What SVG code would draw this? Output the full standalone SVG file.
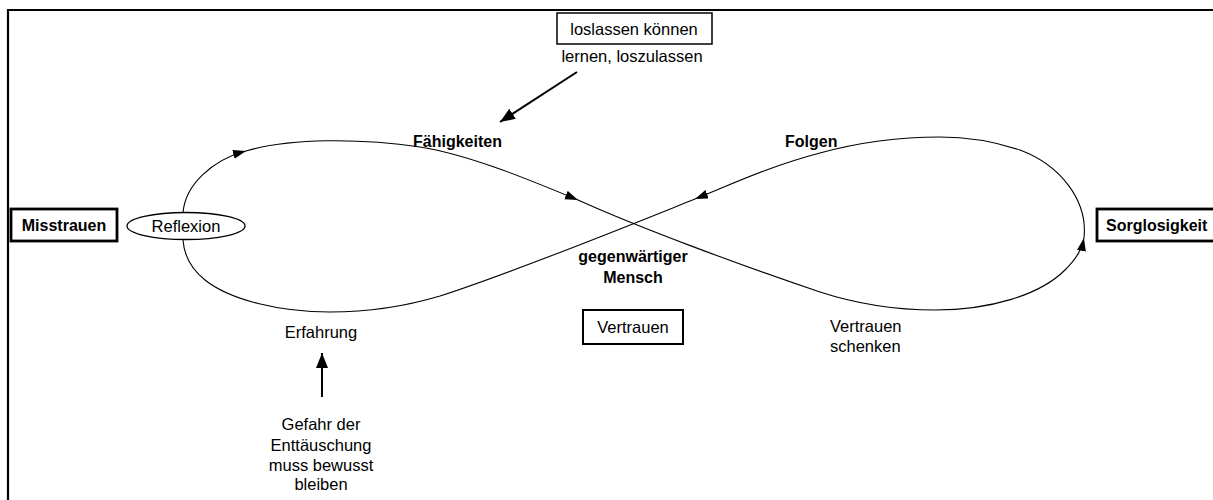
<svg xmlns="http://www.w3.org/2000/svg" width="1213" height="500" viewBox="0 0 1213 500">
<style>
  text { font-family: "Liberation Sans", Arial, sans-serif; fill: #000; }
  .r { font-size: 16.5px; }
  .b { font-size: 16px; font-weight: bold; }
  .c { text-anchor: middle; }
  .curve { fill: none; stroke: #000; stroke-width: 1.1; }
  .thick { fill: none; stroke: #000; stroke-width: 2; }
  .box { fill: #fff; stroke: #000; }
</style>
<defs>
  <marker id="ah" markerUnits="userSpaceOnUse" markerWidth="14" markerHeight="10" refX="13" refY="4.5" orient="auto">
    <path d="M0,0 L13,4.5 L0,9 z" fill="#000"/>
  </marker>
  <marker id="ahBig" markerUnits="userSpaceOnUse" markerWidth="16" markerHeight="14" refX="15" refY="6" orient="auto">
    <path d="M0,0 L15,6 L0,12 z" fill="#000"/>
  </marker>
</defs>
<rect width="1213" height="500" fill="#fff"/>
<path d="M8,500 L8,10 L1213,10" fill="none" stroke="#000" stroke-width="2.2"/>

<g id="connectors">
  <path class="curve" d="M183,213 C185,185 212,160 246,151" marker-end="url(#ah)"/>
  <path class="curve" d="M246,151 C290,138 360,138 420,147 C470,155 530,180 578,200" marker-end="url(#ah)"/>
  <path class="curve" d="M578,200 C640,228 740,265 820,292 C860,305 900,310 935,310 C990,310 1040,295 1065,270 C1078,257 1082,248 1084,238" marker-end="url(#ah)"/>
  <path class="curve" d="M1084,238 C1088,200 1060,165 1020,150 C990,140 965,137 940,137 C900,137 860,142 820,153 C770,166 730,185 695,199" marker-end="url(#ah)"/>
  <path class="curve" d="M695,199 C640,221 520,270 440,296 C400,308 360,312 330,312 C280,312 230,300 205,280 C190,268 184,255 183,240"/>
  <path class="thick" d="M577,72 L500,122" marker-end="url(#ahBig)"/>
  <path class="thick" d="M322,397 L322,353" marker-end="url(#ahBig)"/>
</g>

<g id="loslassen">
  <rect class="box" x="557" y="13" width="155" height="31" stroke-width="1.5"/>
  <text class="r c" x="634" y="35">loslassen können</text>
</g>
<g id="lernen">
  <text class="r c" x="632" y="62">lernen, loszulassen</text>
</g>
<g id="faehigkeiten">
  <text class="b" x="413" y="147">Fähigkeiten</text>
</g>
<g id="folgen">
  <text class="b" x="785" y="147">Folgen</text>
</g>
<g id="misstrauen">
  <rect class="box" x="11" y="209" width="106" height="32" stroke-width="2.8"/>
  <text class="b c" x="64" y="231">Misstrauen</text>
</g>
<g id="reflexion">
  <ellipse cx="186" cy="226" rx="59" ry="13.5" fill="#fff" stroke="#000" stroke-width="1.3"/>
  <text class="r c" x="186" y="232">Reflexion</text>
</g>
<g id="sorglosigkeit">
  <rect class="box" x="1097" y="209" width="120" height="32" stroke-width="2.8"/>
  <text class="b" x="1106" y="231">Sorglosigkeit</text>
</g>
<g id="gegenwaertiger">
  <text class="b c" x="633" y="262">gegenwärtiger</text>
  <text class="b c" x="633" y="283">Mensch</text>
</g>
<g id="vertrauen">
  <rect class="box" x="583" y="310" width="100" height="34" stroke-width="2"/>
  <text class="r c" x="633" y="333">Vertrauen</text>
</g>
<g id="erfahrung">
  <text class="r c" x="321" y="338">Erfahrung</text>
</g>
<g id="vertrauen-schenken">
  <text class="r" x="830" y="332">Vertrauen</text>
  <text class="r" x="830" y="352">schenken</text>
</g>
<g id="gefahr">
  <text class="r c" x="321" y="430">Gefahr der</text>
  <text class="r c" x="321" y="451">Enttäuschung</text>
  <text class="r c" x="321" y="471">muss bewusst</text>
  <text class="r c" x="321" y="490">bleiben</text>
</g>
</svg>
